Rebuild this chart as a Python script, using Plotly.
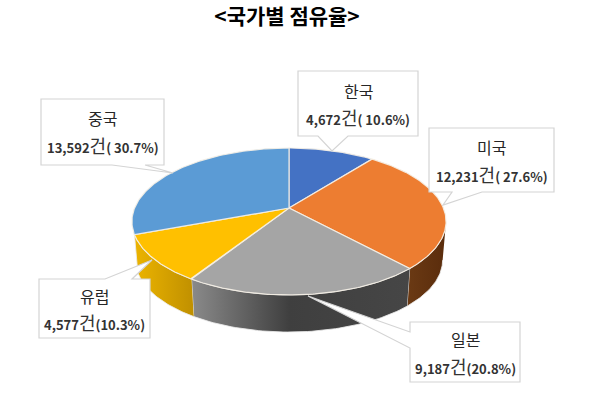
import numpy as np
import plotly.graph_objects as go

# --- data ---
countries = ["한국", "미국", "일본", "유럽", "중국"]
counts = [4672, 12231, 9187, 4577, 13592]
value_labels = ["4,672", "12,231", "9,187", "4,577", "13,592"]
pct_labels = ["( 10.6%)", "( 27.6%)", "(20.8%)", "(10.3%)", "( 30.7%)"]

# --- styles ---
top_colors = ["#4472c4", "#ed7d31", "#a5a5a5", "#ffc000", "#5b9bd5"]
wall_scales = [
    None,
    [[0, "#6b3a14"], [1, "#5a2c0c"]],
    [[0, "#8a8a8a"], [0.45, "#3f3f3f"], [1, "#464646"]],
    [[0, "#ecb400"], [1, "#c09000"]],
    None,
]
FONT = "Noto Sans CJK KR"

# --- projection of the pie disk (pixels) ---
CX, APEX_Y, R, H, K = 289.0, 208.0, 154.4, 71.0, -0.1837
BOT_Y, BOT_S = 247.0, 0.978
TANGENT = np.degrees(np.arccos(K))


def project(deg, scale=1.0, cy=APEX_Y):
    t = np.radians(deg)
    u, v = np.sin(t), -np.cos(t)
    w = 1 + K * v
    return CX + scale * R * u / w, cy + scale * H * v / w


edges = np.concatenate([[0], np.cumsum(counts)]) / np.sum(counts) * 360.0
fig = go.Figure()

# side walls
for i in range(len(counts)):
    if wall_scales[i] is None:
        continue
    a, b = max(edges[i], TANGENT), min(edges[i + 1], 360 - TANGENT)
    th = np.linspace(a, b, 60)
    xt, yt = project(th)
    xb, yb = project(th[::-1], BOT_S, BOT_Y)
    fig.add_trace(go.Scatter(
        x=np.concatenate([xt, xb]), y=np.concatenate([yt, yb]),
        mode="lines", fill="toself",
        fillgradient=dict(type="horizontal", colorscale=wall_scales[i]),
        line=dict(color="rgba(235,235,235,0.85)", width=1),
        hoverinfo="skip", showlegend=False,
    ))

# top faces
for i in range(len(counts)):
    th = np.linspace(edges[i], edges[i + 1], 120)
    xt, yt = project(th)
    fig.add_trace(go.Scatter(
        x=np.concatenate([[CX], xt, [CX]]), y=np.concatenate([[APEX_Y], yt, [APEX_Y]]),
        mode="lines", fill="toself", fillcolor=top_colors[i],
        line=dict(color="rgba(245,240,230,0.9)", width=1.2),
        hoverinfo="skip", showlegend=False,
    ))

# --- data-label callouts: box (x0, y0, x1, y1), outline, text offsets from box top ---
callouts = {
    "한국": dict(box=(298, 71, 418, 136), name_dy=20, val_dy=46,
               path="M298 71 L418 71 L418 136 L348 136 L332 151 L318 136 L298 136 Z"),
    "미국": dict(box=(429, 128, 554, 192), name_dy=19, val_dy=46,
               path="M429 128 L554 128 L554 192 L482 192 L443 205 L452 192 L429 192 Z"),
    "일본": dict(box=(410, 322, 520, 382), name_dy=17, val_dy=44,
               path="M410 322 L520 322 L520 382 L410 382 L410 348 L308 296 L410 332 Z"),
    "유럽": dict(box=(39, 279, 150, 338), name_dy=17, val_dy=43,
               path="M39 279 L105 279 L152 260 L132 279 L150 279 L150 338 L39 338 Z"),
    "중국": dict(box=(41, 99, 164, 165), name_dy=19, val_dy=46,
               path="M41 99 L164 99 L164 165 L145 165 L173 173 L112 165 L41 165 Z"),
}
shapes, annotations = [], []
for name, val, pct in zip(countries, value_labels, pct_labels):
    c = callouts[name]
    x0, y0, x1, y1 = c["box"]
    xc = (x0 + x1) / 2
    shapes.append(dict(type="path", path=c["path"], xref="x", yref="y", fillcolor="white",
                       line=dict(color="#d4d4d4", width=1.2), layer="above"))
    annotations.append(dict(x=xc, y=y0 + c["name_dy"], xref="x", yref="y", text=name, showarrow=False,
                            font=dict(family=FONT, size=16, color="#262626")))
    annotations.append(dict(
        x=xc, y=y0 + c["val_dy"], xref="x", yref="y", showarrow=False,
        text=f'<b>{val}</b><span style="font-size:18px">건</span><b>{pct}</b>',
        font=dict(family=FONT, size=13, color="#333333")))

fig.update_layout(
    width=600, height=394, margin=dict(l=0, r=0, t=0, b=0),
    paper_bgcolor="white", plot_bgcolor="white", showlegend=False,
    xaxis=dict(range=[0, 600], visible=False, fixedrange=True),
    yaxis=dict(range=[394, 0], visible=False, fixedrange=True),
    shapes=shapes, annotations=annotations,
    title=dict(text="<b>&lt;국가별 점유율&gt;</b>", x=287 / 600, xanchor="center",
               y=1 - 17 / 394, yanchor="middle",
               font=dict(family=FONT, size=21, color="black")),
)
fig.write_html("out.html", config={"displayModeBar": False},
               post_script="document.body.style.margin='0';document.documentElement.style.overflow='hidden';")
